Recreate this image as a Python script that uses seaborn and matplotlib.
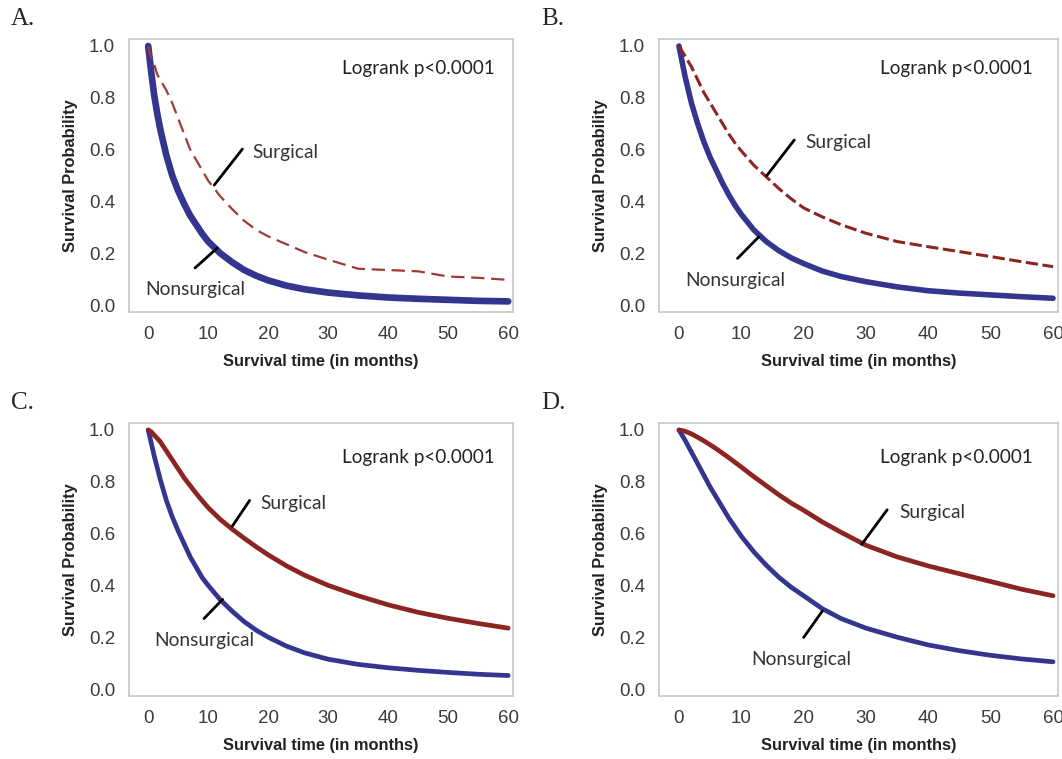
import matplotlib
matplotlib.use("Agg")
import matplotlib.pyplot as plt
import seaborn as sns
import numpy as np
import pandas as pd

# Survival time points (months)
months = [0, 0.5, 1, 1.5, 2, 3, 4, 5, 6, 7, 8, 9, 10, 12, 14, 16, 18, 20, 23, 26,
          30, 35, 40, 45, 50, 55, 60]

# Panel A
a_nonsurg = [1.0, 0.90, 0.81, 0.74, 0.68, 0.58, 0.50, 0.44, 0.39, 0.345, 0.31, 0.275,
             0.245, 0.20, 0.165, 0.135, 0.113, 0.095, 0.075, 0.061, 0.048, 0.037,
             0.029, 0.024, 0.020, 0.016, 0.014]
a_surg = [1.0, 0.955, 0.93, 0.89, 0.87, 0.83, 0.78, 0.72, 0.66, 0.60, 0.56, 0.52,
          0.48, 0.42, 0.37, 0.325, 0.29, 0.265, 0.235, 0.205, 0.175, 0.14, 0.135,
          0.13, 0.11, 0.105, 0.097]
# Panel B
b_nonsurg = [1.0, 0.94, 0.88, 0.83, 0.78, 0.70, 0.63, 0.57, 0.52, 0.47, 0.425, 0.385,
             0.35, 0.29, 0.245, 0.21, 0.182, 0.16, 0.131, 0.11, 0.09, 0.07, 0.055,
             0.046, 0.039, 0.032, 0.026]
b_surg = [1.0, 0.98, 0.96, 0.94, 0.92, 0.87, 0.82, 0.78, 0.74, 0.70, 0.66, 0.625,
          0.595, 0.54, 0.495, 0.45, 0.41, 0.375, 0.34, 0.31, 0.277, 0.245, 0.225,
          0.206, 0.187, 0.167, 0.148]
# Panel C
c_nonsurg = [1.0, 0.95, 0.90, 0.855, 0.81, 0.73, 0.665, 0.61, 0.56, 0.51, 0.47, 0.43,
             0.40, 0.345, 0.30, 0.26, 0.227, 0.20, 0.166, 0.14, 0.115, 0.095, 0.082,
             0.072, 0.064, 0.057, 0.052]
c_surg = [1.0, 0.993, 0.98, 0.968, 0.955, 0.92, 0.885, 0.85, 0.815, 0.785, 0.755, 0.727,
          0.70, 0.655, 0.617, 0.582, 0.549, 0.518, 0.476, 0.44, 0.40, 0.36, 0.325,
          0.296, 0.273, 0.253, 0.235]
# Panel D
d_nonsurg = [1.0, 0.98, 0.96, 0.937, 0.915, 0.87, 0.825, 0.78, 0.74, 0.70, 0.66, 0.625,
             0.59, 0.53, 0.478, 0.432, 0.393, 0.36, 0.31, 0.272, 0.235, 0.20, 0.17,
             0.148, 0.13, 0.116, 0.105]
d_surg = [1.0, 0.998, 0.995, 0.99, 0.985, 0.972, 0.958, 0.943, 0.927, 0.91, 0.893,
          0.875, 0.857, 0.82, 0.785, 0.75, 0.718, 0.69, 0.645, 0.605, 0.555, 0.51,
          0.475, 0.445, 0.415, 0.385, 0.36]

panel_letters = ["A.", "B.", "C.", "D."]
y_ticks = [0.0, 0.2, 0.4, 0.6, 0.8, 1.0]
x_ticks = [0, 10, 20, 30, 40, 50, 60]

blue = "#34358f"
red = "#8c2522"

sns.set_style("white")
plt.rcParams["font.family"] = ["Liberation Sans", "DejaVu Sans"]

W, H = 1062, 759
fig = plt.figure(figsize=(W / 100, H / 100), dpi=100)

# axes boxes in pixels: left, top, right, bottom
boxes = [(129, 39, 513, 312), (659, 39, 1058, 312),
         (129, 423, 513, 696), (659, 423, 1058, 696)]

panels = [
    (a_nonsurg, a_surg, "dashA", ((11.0, 0.463), (15.7, 0.602), (17.3, 0.59)),
     ((7.8, 0.143), (11.5, 0.22), (-0.5, 0.058)), 0.915),
    (b_nonsurg, b_surg, "dashB", ((14.1, 0.50), (18.5, 0.637), (20.3, 0.627)),
     ((9.4, 0.18), (12.8, 0.263), (1.0, 0.094)), 0.915),
    (c_nonsurg, c_surg, "solid", ((14.0, 0.628), (16.9, 0.728), (18.7, 0.718)),
     ((9.3, 0.272), (12.4, 0.346), (1.0, 0.186)), 0.895),
    (d_nonsurg, d_surg, "solid", ((29.3, 0.558), (33.4, 0.692), (35.3, 0.682)),
     ((20.0, 0.199), (23.0, 0.301), (11.6, 0.115)), 0.895),
]

for i, (box, panel) in enumerate(zip(boxes, panels)):
    l, t, r, b = box
    ax = fig.add_axes([l / W, 1 - b / H, (r - l) / W, (b - t) / H])
    nons, surg, style, s_ptr, n_ptr, logy = panel

    df = pd.DataFrame({"time": months, "Nonsurgical": nons, "Surgical": surg})

    if style == "solid":
        sns.lineplot(data=df, x="time", y="Nonsurgical", ax=ax, color=blue, lw=3.4)
        sns.lineplot(data=df, x="time", y="Surgical", ax=ax, color=red, lw=3.4)
    elif style == "dashA":
        sns.lineplot(data=df, x="time", y="Nonsurgical", ax=ax, color=blue, lw=4.8)
        sns.lineplot(data=df, x="time", y="Surgical", ax=ax, color="#a03a33", lw=1.6,
                     linestyle=(0, (6, 3)))
    else:
        sns.lineplot(data=df, x="time", y="Nonsurgical", ax=ax, color=blue, lw=4.0)
        sns.lineplot(data=df, x="time", y="Surgical", ax=ax, color=red, lw=2.2,
                     linestyle=(0, (4, 1.5)))

    ax.set_xlim(-3.2, 60.8)
    ax.set_ylim(-0.027, 1.027)
    ax.set_xticks(x_ticks)
    ax.set_yticks(y_ticks)
    ax.set_yticklabels([f"{v:.1f}" for v in y_ticks])
    ax.tick_params(axis="both", direction="out", length=5, width=1, color="#b0b0b0",
                   labelsize=13.5, labelcolor="#3c3c3c", pad=5)
    for sp in ax.spines.values():
        sp.set_color("#c8c8c8")
        sp.set_linewidth(1.2)

    ax.set_xlabel("Survival time (in months)", fontsize=11.8, fontweight="bold",
                  color="#222222", labelpad=8)
    ax.set_ylabel("Survival Probability", fontsize=11.8, fontweight="bold",
                  color="#222222", labelpad=8)

    # pointer lines and labels
    (sx0, sy0), (sx1, sy1), (stx, sty) = s_ptr
    (nx0, ny0), (nx1, ny1), (ntx, nty) = n_ptr
    ax.plot([sx0, sx1], [sy0, sy1], color="black", lw=2)
    ax.plot([nx0, nx1], [ny0, ny1], color="black", lw=2)
    ax.text(stx, sty, "Surgical", fontsize=13.8, family=["Lato", "DejaVu Sans"],
            color="#333333", ha="left", va="center")
    ax.text(ntx, nty, "Nonsurgical", fontsize=13.8, family=["Lato", "DejaVu Sans"],
            color="#333333", ha="left", va="center")
    ax.text(32.3, logy, "Logrank p<0.0001", fontsize=13.6,
            family=["Lato", "DejaVu Sans"], color="#222222", ha="left", va="center")

    # panel letter
    fig.text((l - 118) / W, 1 - (t - 20) / H, panel_letters[i], fontsize=18,
             family=["Liberation Serif", "DejaVu Serif"], ha="left", va="center")

plt.savefig("out.png", dpi=100)
